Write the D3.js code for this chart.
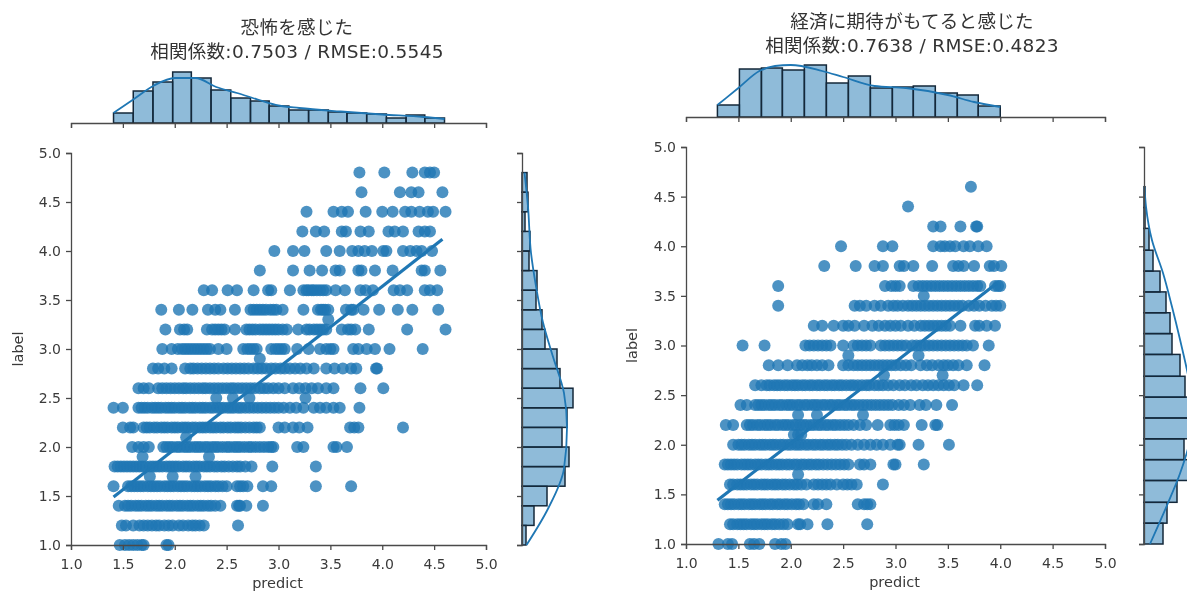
<!DOCTYPE html>
<html>
<head>
<meta charset="utf-8">
<script src="https://cdn.jsdelivr.net/npm/d3@7"></script>
<style>
  html, body { margin: 0; padding: 0; background: #fff; overflow: hidden; }
  svg { display: block; font-family: "DejaVu Sans", "Noto Sans CJK JP", sans-serif; filter: blur(0.6px); }
  .axis text { fill: #3a3a3a; font-size: 14px; font-family: "DejaVu Sans", sans-serif; }
  .axis path, .axis line { stroke: #4a4a4a; stroke-width: 1.3; }
  .title { fill: #333; font-size: 18.5px; letter-spacing: 0.3px; text-anchor: middle; }
  .axlabel { fill: #3a3a3a; font-size: 14.5px; text-anchor: middle; }
</style>
</head>
<body>
<div class="chart"></div>
<script>
const tickValues = [1.0, 1.5, 2.0, 2.5, 3.0, 3.5, 4.0, 4.5, 5.0];

// left panel: 恐怖を感じた
const leftLabels = [1.0, 1.2, 1.4, 1.6, 1.8, 2.0, 2.2, 2.4, 2.6, 2.8, 3.0, 3.2, 3.4, 3.6, 3.8, 4.0, 4.2, 4.4, 4.6, 4.8];
const leftPredict = [
  [1.47, 1.52, 1.56, 1.6, 1.64, 1.68, 1.7, 1.92, 1.94],
  [1.49, 1.53, 1.6, 1.66, 1.7, 1.74, 1.78, 1.82, 1.85, 1.9, 1.94, 1.98, 2.04, 2.08, 2.13, 2.17, 2.2, 2.24, 2.28, 2.61],
  [1.46, 1.52, 1.55, 1.58, 1.62, 1.65, 1.68, 1.72, 1.75, 1.78, 1.82, 1.85, 1.88, 1.92, 1.95, 1.98, 2.02, 2.05, 2.08, 2.12, 2.15, 2.18, 2.22, 2.25, 2.28, 2.32, 2.35, 2.39, 2.44, 2.6, 2.62, 2.63, 2.69, 2.85],
  [1.41, 1.55, 1.58, 1.61, 1.64, 1.67, 1.7, 1.74, 1.77, 1.8, 1.83, 1.86, 1.9, 1.93, 1.96, 1.99, 2.03, 2.06, 2.09, 2.12, 2.16, 2.19, 2.22, 2.25, 2.29, 2.32, 2.35, 2.39, 2.42, 2.46, 2.5, 2.6, 2.63, 2.66, 2.7, 2.85, 2.93, 3.36, 3.7],
  [1.42, 1.45, 1.48, 1.51, 1.54, 1.57, 1.6, 1.63, 1.66, 1.69, 1.72, 1.76, 1.79, 1.82, 1.85, 1.88, 1.92, 1.95, 1.98, 2.01, 2.04, 2.08, 2.11, 2.14, 2.18, 2.21, 2.24, 2.28, 2.31, 2.34, 2.38, 2.41, 2.45, 2.48, 2.52, 2.56, 2.6, 2.63, 2.68, 2.74, 2.94, 3.36],
  [1.59, 1.65, 1.7, 1.75, 1.89, 1.92, 1.95, 1.98, 2.02, 2.05, 2.09, 2.12, 2.15, 2.19, 2.22, 2.25, 2.29, 2.32, 2.36, 2.39, 2.42, 2.46, 2.5, 2.53, 2.57, 2.6, 2.63, 2.67, 2.71, 2.74, 2.78, 2.82, 2.86, 2.9, 2.93, 2.95, 3.18, 3.24, 3.53, 3.56, 3.66],
  [1.5, 1.57, 1.6, 1.7, 1.73, 1.76, 1.8, 1.83, 1.87, 1.9, 1.93, 1.97, 2.0, 2.03, 2.07, 2.1, 2.13, 2.17, 2.2, 2.24, 2.27, 2.3, 2.34, 2.37, 2.4, 2.44, 2.47, 2.51, 2.54, 2.58, 2.61, 2.64, 2.68, 2.72, 2.76, 2.79, 2.82, 3.0, 3.06, 3.14, 3.2, 3.28, 3.69, 3.73, 3.77, 4.2],
  [1.41, 1.5, 1.65, 1.68, 1.71, 1.74, 1.78, 1.81, 1.84, 1.87, 1.91, 1.94, 1.97, 2.0, 2.04, 2.07, 2.1, 2.14, 2.17, 2.2, 2.24, 2.27, 2.3, 2.34, 2.37, 2.41, 2.44, 2.47, 2.51, 2.54, 2.57, 2.61, 2.64, 2.68, 2.72, 2.76, 2.8, 2.84, 2.88, 2.92, 2.96, 3.0, 3.05, 3.11, 3.17, 3.24, 3.34, 3.4, 3.46, 3.53, 3.59, 3.78],
  [1.65, 1.7, 1.75, 1.84, 1.88, 1.92, 1.96, 2.0, 2.04, 2.08, 2.11, 2.15, 2.19, 2.23, 2.27, 2.3, 2.34, 2.38, 2.42, 2.46, 2.5, 2.54, 2.57, 2.61, 2.65, 2.69, 2.73, 2.77, 2.82, 2.86, 2.9, 2.95, 3.0, 3.06, 3.14, 3.2, 3.26, 3.32, 3.38, 3.46, 3.53, 3.79, 4.01],
  [1.79, 1.84, 1.9, 1.97, 2.1, 2.15, 2.18, 2.22, 2.26, 2.3, 2.34, 2.38, 2.42, 2.47, 2.51, 2.55, 2.59, 2.63, 2.67, 2.71, 2.76, 2.8, 2.84, 2.88, 2.93, 2.97, 3.02, 3.06, 3.11, 3.16, 3.21, 3.27, 3.34, 3.46, 3.54, 3.62, 3.7, 3.75, 3.94, 3.95],
  [1.88, 1.97, 2.03, 2.07, 2.1, 2.13, 2.16, 2.19, 2.22, 2.25, 2.28, 2.31, 2.34, 2.42, 2.5, 2.66, 2.7, 2.73, 2.76, 2.79, 2.93, 2.97, 3.0, 3.03, 3.06, 3.18, 3.29, 3.4, 3.46, 3.5, 3.53, 3.72, 3.77, 3.85, 3.93, 4.07, 4.39],
  [1.91, 2.05, 2.09, 2.12, 2.31, 2.36, 2.39, 2.42, 2.45, 2.48, 2.58, 2.69, 2.72, 2.75, 2.78, 2.82, 2.85, 2.88, 2.91, 2.94, 2.97, 3.0, 3.04, 3.08, 3.19, 3.27, 3.3, 3.34, 3.37, 3.4, 3.43, 3.46, 3.61, 3.67, 3.7, 3.74, 3.87, 4.24, 4.61],
  [1.87, 2.04, 2.17, 2.32, 2.39, 2.44, 2.58, 2.73, 2.76, 2.79, 2.82, 2.85, 2.88, 2.92, 2.95, 2.98, 3.04, 3.24, 3.38, 3.41, 3.43, 3.45, 3.48, 3.65, 3.7, 3.72, 3.82, 3.97, 4.15, 4.29, 4.54],
  [2.28, 2.36, 2.51, 2.6, 2.76, 2.9, 2.93, 3.11, 3.24, 3.27, 3.29, 3.32, 3.34, 3.37, 3.4, 3.43, 3.46, 3.55, 3.64, 3.79, 3.84, 3.91, 4.11, 4.17, 4.24, 4.41, 4.46, 4.53],
  [2.82, 3.14, 3.3, 3.42, 3.55, 3.59, 3.77, 3.8, 3.93, 4.1, 4.38, 4.41, 4.56],
  [2.96, 3.14, 3.25, 3.46, 3.59, 3.71, 3.77, 3.83, 3.9, 4.01, 4.04, 4.2, 4.27, 4.33, 4.38, 4.48],
  [3.23, 3.36, 3.44, 3.61, 3.65, 3.79, 3.87, 4.06, 4.12, 4.2, 4.35, 4.41, 4.46],
  [3.27, 3.53, 3.61, 3.67, 3.84, 4.0, 4.1, 4.22, 4.28, 4.36, 4.44, 4.49, 4.61],
  [3.8, 4.17, 4.28, 4.35, 4.58],
  [3.78, 4.02, 4.29, 4.41, 4.46, 4.5]
];
const leftOffX = [1.76, 1.98, 2.2, 1.69, 2.33, 2.11, 2.4, 2.56, 2.72, 3.26, 2.82, 3.48];
const leftOffY = [1.7, 1.7, 1.7, 1.9, 1.9, 2.1, 2.5, 2.5, 2.5, 2.5, 2.9, 3.3];
const leftRegX = [1.41, 4.58];
const leftRegY = [1.49, 4.12];
const leftTopEdges = [1.41, 1.6, 1.79, 1.98, 2.16, 2.35, 2.54, 2.73, 2.91, 3.1, 3.29, 3.48, 3.66, 3.85, 4.04, 4.23, 4.41, 4.6];
const leftTopCounts = [20, 64, 82, 102, 90, 66, 50, 44, 34, 26, 26, 22, 20, 18, 10, 16, 10];
const leftTopKdeX = [1.41, 1.6, 1.8, 2.0, 2.2, 2.4, 2.6, 2.8, 3.0, 3.2, 3.6, 4.0, 4.4, 4.6];
const leftTopKde = [20, 47, 75, 90, 90, 72, 60, 47, 35, 30, 23, 17, 12, 8];
const leftSideEdges = [1.0, 1.2, 1.4, 1.6, 1.8, 2.0, 2.2, 2.4, 2.6, 2.8, 3.0, 3.2, 3.4, 3.6, 3.8, 4.0, 4.2, 4.4, 4.6, 4.8];
const leftSideCounts = [8, 24, 50, 86, 94, 80, 90, 102, 76, 70, 46, 40, 28, 30, 14, 16, 6, 12, 10];
const leftSideKdeY = [1.0, 1.37, 1.78, 2.2, 2.55, 2.92, 3.27, 3.64, 3.98, 4.45, 4.8];
const leftSideKde = [9, 52, 84, 90, 84, 62, 42, 28, 18, 12, 5];

// right panel: 経済に期待がもてると感じた
const rightLabels = [1.0, 1.2, 1.4, 1.6, 1.8, 2.0, 2.2, 2.4, 2.6, 2.8, 3.0, 3.2, 3.4, 3.6, 3.8, 4.0, 4.2, 4.4, 4.6];
const rightPredict = [
  [1.31, 1.4, 1.44, 1.61, 1.65, 1.7, 1.85, 1.91, 1.95],
  [1.42, 1.45, 1.49, 1.52, 1.55, 1.58, 1.62, 1.65, 1.68, 1.72, 1.75, 1.78, 1.82, 1.85, 1.89, 1.93, 1.97, 2.07, 2.09, 2.16, 2.35, 2.73],
  [1.37, 1.4, 1.43, 1.46, 1.5, 1.53, 1.56, 1.6, 1.63, 1.66, 1.7, 1.73, 1.76, 1.8, 1.83, 1.87, 1.9, 1.94, 1.97, 2.01, 2.05, 2.08, 2.12, 2.22, 2.26, 2.34, 2.64, 2.7, 2.73, 2.76],
  [1.42, 1.45, 1.49, 1.52, 1.55, 1.58, 1.62, 1.65, 1.68, 1.72, 1.75, 1.78, 1.82, 1.85, 1.88, 1.92, 1.95, 1.99, 2.03, 2.06, 2.1, 2.15, 2.22, 2.26, 2.3, 2.34, 2.38, 2.44, 2.5, 2.54, 2.58, 2.63, 2.88],
  [1.37, 1.4, 1.43, 1.46, 1.49, 1.53, 1.56, 1.59, 1.62, 1.66, 1.69, 1.72, 1.76, 1.79, 1.82, 1.86, 1.89, 1.92, 1.96, 1.99, 2.03, 2.06, 2.1, 2.13, 2.17, 2.2, 2.24, 2.27, 2.31, 2.35, 2.39, 2.43, 2.47, 2.51, 2.55, 2.66, 2.7, 2.76, 2.98, 3.0, 3.27],
  [1.45, 1.5, 1.53, 1.56, 1.6, 1.63, 1.66, 1.7, 1.73, 1.76, 1.8, 1.83, 1.86, 1.9, 1.93, 1.97, 2.0, 2.04, 2.07, 2.1, 2.14, 2.17, 2.21, 2.24, 2.28, 2.31, 2.35, 2.38, 2.42, 2.45, 2.49, 2.53, 2.58, 2.64, 2.7, 2.76, 2.82, 2.88, 2.95, 3.02, 3.04, 3.22, 3.51],
  [1.38, 1.45, 1.58, 1.61, 1.64, 1.68, 1.71, 1.75, 1.78, 1.81, 1.85, 1.88, 1.92, 1.95, 1.98, 2.02, 2.05, 2.09, 2.12, 2.15, 2.19, 2.22, 2.26, 2.29, 2.33, 2.36, 2.4, 2.43, 2.47, 2.51, 2.55, 2.6, 2.66, 2.72, 2.83, 2.95, 2.99, 3.03, 3.08, 3.25, 3.38, 3.4],
  [1.52, 1.58, 1.66, 1.69, 1.72, 1.75, 1.79, 1.82, 1.85, 1.89, 1.92, 1.96, 1.99, 2.02, 2.06, 2.09, 2.13, 2.16, 2.2, 2.23, 2.26, 2.3, 2.33, 2.37, 2.4, 2.44, 2.47, 2.51, 2.54, 2.58, 2.61, 2.65, 2.69, 2.73, 2.77, 2.81, 2.85, 2.89, 2.93, 2.97, 3.03, 3.08, 3.14, 3.23, 3.29, 3.39, 3.54],
  [1.66, 1.72, 1.77, 1.8, 1.84, 1.87, 1.9, 1.94, 1.97, 2.01, 2.04, 2.07, 2.11, 2.14, 2.18, 2.21, 2.25, 2.28, 2.32, 2.35, 2.39, 2.42, 2.46, 2.49, 2.53, 2.57, 2.6, 2.64, 2.68, 2.72, 2.75, 2.8, 2.84, 2.88, 2.93, 2.98, 3.04, 3.09, 3.15, 3.2, 3.26, 3.31, 3.36, 3.41, 3.46, 3.51, 3.56, 3.65, 3.78],
  [1.79, 1.88, 1.97, 2.06, 2.11, 2.16, 2.2, 2.25, 2.3, 2.36, 2.5, 2.55, 2.6, 2.64, 2.68, 2.72, 2.76, 2.8, 2.84, 2.88, 2.92, 2.96, 3.0, 3.05, 3.1, 3.15, 3.24, 3.3, 3.35, 3.41, 3.46, 3.5, 3.55, 3.6, 3.68, 3.85],
  [1.54, 1.75, 2.14, 2.18, 2.22, 2.26, 2.3, 2.34, 2.38, 2.5, 2.6, 2.64, 2.68, 2.72, 2.76, 2.86, 2.9, 2.94, 2.98, 3.02, 3.06, 3.1, 3.16, 3.2, 3.24, 3.28, 3.32, 3.36, 3.4, 3.44, 3.48, 3.52, 3.56, 3.6, 3.64, 3.68, 3.74, 3.89],
  [2.22, 2.3, 2.41, 2.5, 2.55, 2.61, 2.7, 2.78, 2.84, 2.9, 2.95, 3.0, 3.05, 3.12, 3.18, 3.24, 3.28, 3.32, 3.36, 3.4, 3.44, 3.48, 3.52, 3.62, 3.76, 3.8, 3.87, 3.95],
  [1.88, 2.61, 2.66, 2.72, 2.8, 2.86, 2.93, 2.98, 3.02, 3.07, 3.12, 3.16, 3.2, 3.24, 3.28, 3.32, 3.36, 3.4, 3.44, 3.48, 3.52, 3.56, 3.6, 3.64, 3.7, 3.75, 3.8, 3.86, 3.92, 3.96, 4.0],
  [1.88, 2.9, 2.96, 3.0, 3.04, 3.17, 3.22, 3.26, 3.3, 3.34, 3.38, 3.42, 3.46, 3.5, 3.54, 3.58, 3.62, 3.66, 3.7, 3.74, 3.78, 3.81, 3.95, 3.98, 4.0],
  [2.32, 2.62, 2.8, 2.88, 3.04, 3.08, 3.17, 3.35, 3.55, 3.6, 3.65, 3.75, 3.9, 3.94, 4.01],
  [2.48, 2.88, 2.97, 3.36, 3.43, 3.47, 3.52, 3.57, 3.65, 3.71, 3.79, 3.87],
  [3.36, 3.43, 3.62, 3.77, 3.78],
  [3.12],
  [3.72]
];
const rightOffX = [2.07, 2.03, 2.07, 2.1, 2.07, 2.25, 2.69, 2.89, 3.45, 2.55, 3.22, 3.27];
const rightOffY = [1.7, 2.1, 2.1, 2.1, 2.3, 2.3, 2.3, 2.7, 2.7, 2.9, 2.9, 3.5];
const rightRegX = [1.3, 3.97];
const rightRegY = [1.44, 3.63];
const rightTopEdges = [1.3, 1.51, 1.72, 1.92, 2.13, 2.34, 2.55, 2.76, 2.97, 3.17, 3.38, 3.59, 3.79, 4.0];
const rightTopCounts = [24, 96, 98, 94, 104, 68, 82, 58, 60, 62, 48, 44, 22];
const rightTopKdeX = [1.3, 1.5, 1.7, 1.85, 2.0, 2.3, 2.5, 2.8, 3.1, 3.5, 3.75, 4.0];
const rightTopKde = [24, 58, 92, 102, 104, 92, 80, 62, 58, 44, 30, 20];
const rightSideEdges = [1.0, 1.21, 1.42, 1.64, 1.85, 2.06, 2.27, 2.48, 2.69, 2.91, 3.12, 3.33, 3.54, 3.75, 3.96, 4.18, 4.39, 4.6];
const rightSideCounts = [38, 46, 66, 92, 80, 94, 100, 82, 72, 56, 52, 44, 32, 18, 10, 2, 2];
const rightSideKdeY = [1.0, 1.39, 1.71, 2.05, 2.38, 2.65, 3.06, 3.39, 3.73, 4.06, 4.4, 4.6];
const rightSideKde = [12, 46, 72, 92, 98, 90, 72, 56, 38, 16, 4, 1];

const blue = "#1f77b4";
const barStroke = "#14283a";
const countScale = 0.5; // px per count in the margin plots

const svg = d3.select(".chart").append("svg")
    .attr("width", 1187)
    .attr("height", 592);

function drawPanel(p) {
    const x = d3.scaleLinear().domain([1, 5]).range([p.x0, p.x1]);
    const y = d3.scaleLinear().domain([1, 5]).range([p.y0, p.y1]);
    const topH = d3.scaleLinear().domain([0, 110]).range([0, 110 * countScale]);
    const sideW = d3.scaleLinear().domain([0, 110]).range([0, 110 * countScale]);

    const g = svg.append("g");

    // title
    g.append("text").attr("class", "title")
        .attr("x", p.titleX).attr("y", p.titleY)
        .text(p.title);
    g.append("text").attr("class", "title")
        .attr("x", p.titleX).attr("y", p.titleY + 24)
        .text(p.subtitle);

    // top histogram
    const top = g.append("g");
    top.selectAll("rect")
        .data(p.topCounts)
        .join("rect")
        .attr("x", (d, i) => x(p.topEdges[i]))
        .attr("width", (d, i) => x(p.topEdges[i + 1]) - x(p.topEdges[i]))
        .attr("y", d => p.topBase - topH(d))
        .attr("height", d => topH(d))
        .attr("fill", blue).attr("fill-opacity", 0.5)
        .attr("stroke", barStroke).attr("stroke-width", 1.5);
    top.append("path")
        .attr("d", d3.line().curve(d3.curveMonotoneX)
            .x((d, i) => x(p.topKdeX[i]))
            .y(d => p.topBase - topH(d))(p.topKde))
        .attr("fill", "none").attr("stroke", blue).attr("stroke-width", 1.8);
    top.append("g").attr("class", "axis")
        .attr("transform", `translate(0,${p.topBase})`)
        .call(d3.axisBottom(x).tickValues(tickValues).tickSize(5).tickFormat(""));

    // side histogram
    const side = g.append("g");
    side.selectAll("rect")
        .data(p.sideCounts)
        .join("rect")
        .attr("x", p.sideBase)
        .attr("width", d => sideW(d))
        .attr("y", (d, i) => y(p.sideEdges[i + 1]))
        .attr("height", (d, i) => y(p.sideEdges[i]) - y(p.sideEdges[i + 1]))
        .attr("fill", blue).attr("fill-opacity", 0.5)
        .attr("stroke", barStroke).attr("stroke-width", 1.5);
    side.append("path")
        .attr("d", d3.line().curve(d3.curveMonotoneY)
            .x(d => p.sideBase + sideW(d))
            .y((d, i) => y(p.sideKdeY[i]))(p.sideKde))
        .attr("fill", "none").attr("stroke", blue).attr("stroke-width", 1.8);
    side.append("g").attr("class", "axis")
        .attr("transform", `translate(${p.sideBase},0)`)
        .call(d3.axisLeft(y).tickValues(tickValues).tickSize(5).tickFormat(""));

    // scatter
    const points = [];
    p.labels.forEach((label, i) => {
        p.predict[i].forEach(v => points.push({x: v, y: label}));
    });
    p.offX.forEach((v, i) => points.push({x: v, y: p.offY[i]}));

    const scatter = g.append("g");
    scatter.selectAll("circle")
        .data(points)
        .join("circle")
        .attr("cx", d => x(d.x))
        .attr("cy", d => y(d.y))
        .attr("r", 6)
        .attr("fill", blue)
        .attr("fill-opacity", 0.8);

    // regression line
    g.append("path")
        .attr("d", d3.line()
            .x(d => x(d))
            .y((d, i) => y(p.regY[i]))(p.regX))
        .attr("fill", "none").attr("stroke", blue).attr("stroke-width", 3.2);

    // main axes
    g.append("g").attr("class", "axis")
        .attr("transform", `translate(0,${p.y0})`)
        .call(d3.axisBottom(x).tickValues(tickValues).tickSize(5).tickPadding(9).tickFormat(d3.format(".1f")));
    g.append("g").attr("class", "axis")
        .attr("transform", `translate(${p.x0},0)`)
        .call(d3.axisLeft(y).tickValues(tickValues).tickSize(5).tickPadding(5).tickFormat(d3.format(".1f")));

    g.append("text").attr("class", "axlabel")
        .attr("x", (p.x0 + p.x1) / 2 - 1).attr("y", p.y0 + 43)
        .text("predict");
    g.append("text").attr("class", "axlabel")
        .attr("transform", `translate(${p.labelX},${(p.y0 + p.y1) / 2}) rotate(-90)`)
        .text("label");
}

drawPanel({
    x0: 71, x1: 486, y0: 545, y1: 153,
    topBase: 123, sideBase: 522,
    titleX: 297, titleY: 34, labelX: 23,
    title: "恐怖を感じた",
    subtitle: "相関係数:0.7503 / RMSE:0.5545",
    labels: leftLabels, predict: leftPredict,
    offX: leftOffX, offY: leftOffY,
    regX: leftRegX, regY: leftRegY,
    topEdges: leftTopEdges, topCounts: leftTopCounts, topKdeX: leftTopKdeX, topKde: leftTopKde,
    sideEdges: leftSideEdges, sideCounts: leftSideCounts, sideKdeY: leftSideKdeY, sideKde: leftSideKde
});

drawPanel({
    x0: 686, x1: 1105, y0: 544, y1: 147,
    topBase: 117, sideBase: 1144,
    titleX: 912, titleY: 28, labelX: 637,
    title: "経済に期待がもてると感じた",
    subtitle: "相関係数:0.7638 / RMSE:0.4823",
    labels: rightLabels, predict: rightPredict,
    offX: rightOffX, offY: rightOffY,
    regX: rightRegX, regY: rightRegY,
    topEdges: rightTopEdges, topCounts: rightTopCounts, topKdeX: rightTopKdeX, topKde: rightTopKde,
    sideEdges: rightSideEdges, sideCounts: rightSideCounts, sideKdeY: rightSideKdeY, sideKde: rightSideKde
});
</script>
</body>
</html>
